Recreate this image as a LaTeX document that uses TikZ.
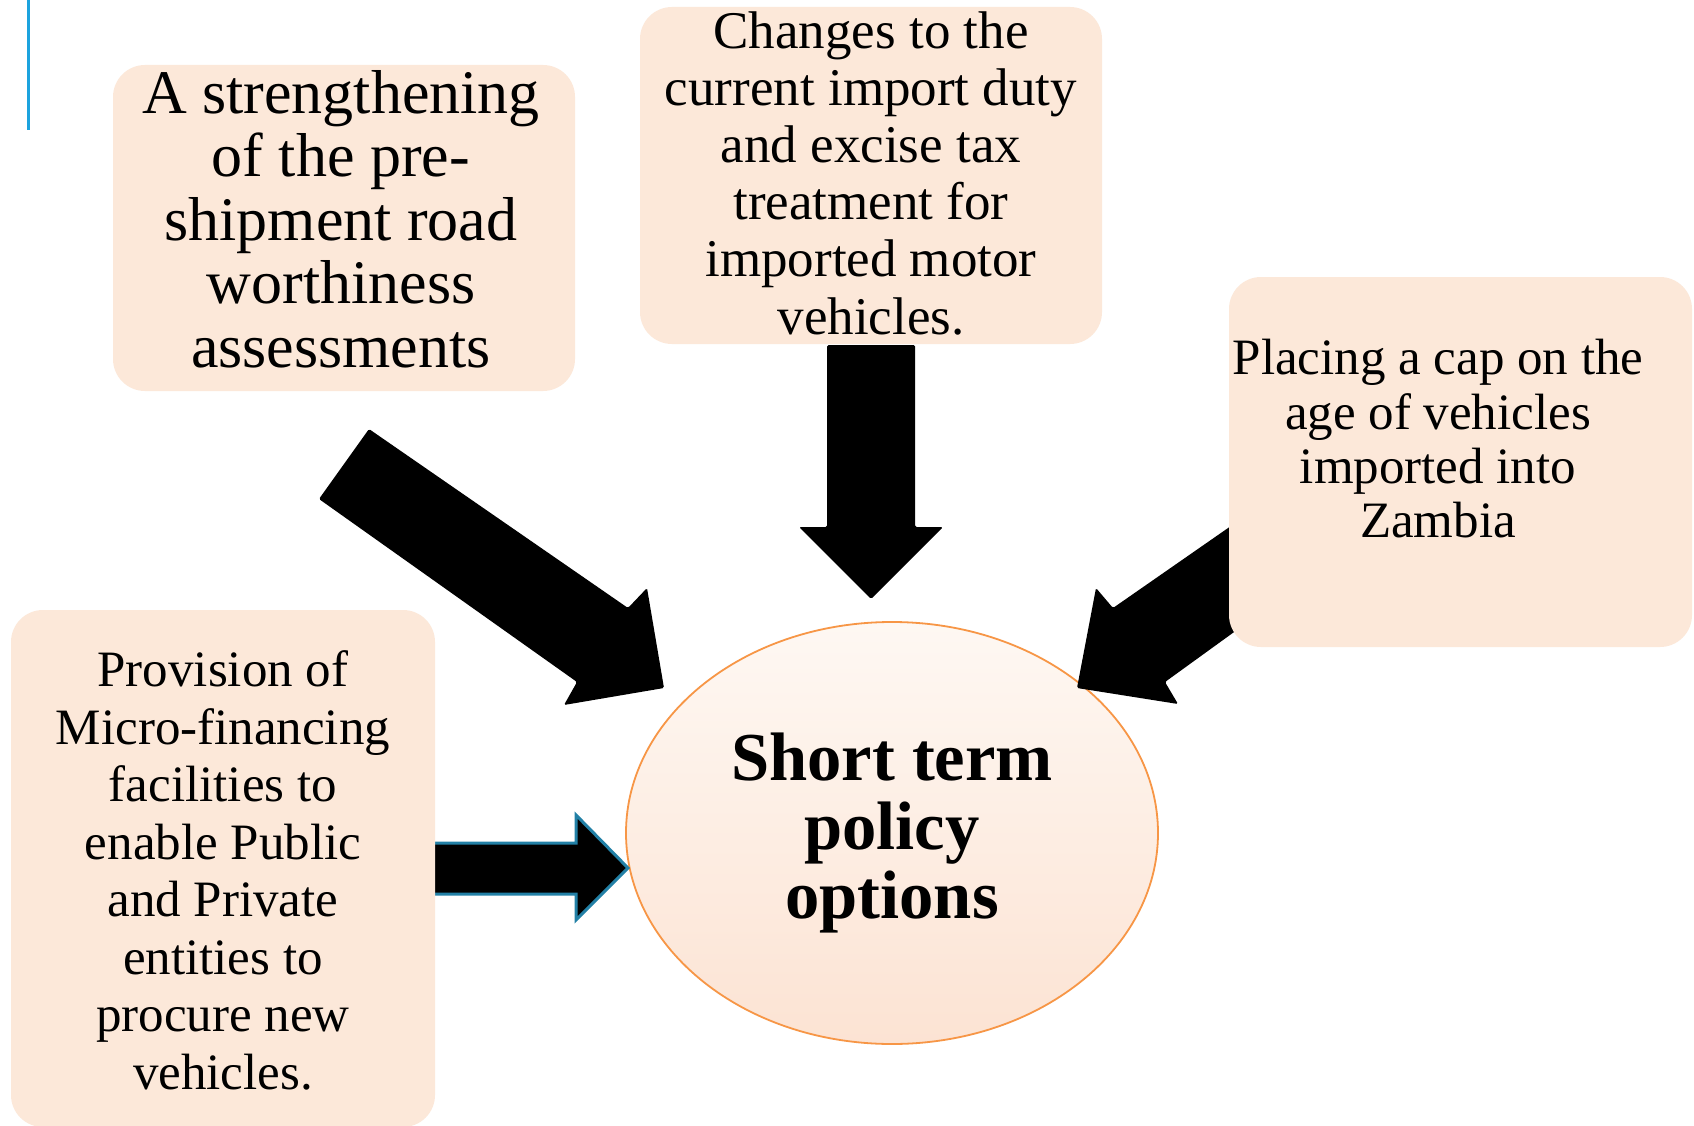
\documentclass[tikz,border=0pt]{standalone}
\usepackage{fontspec}
\setmainfont{Liberation Serif}
\usetikzlibrary{shapes.geometric}
\definecolor{boxfill}{HTML}{FCE8D9}
\definecolor{ellborder}{HTML}{F79646}
\definecolor{elltop}{HTML}{FEF8F3}
\definecolor{ellbot}{HTML}{FCE3D3}
\definecolor{accentblue}{HTML}{1CA3DE}
\definecolor{arrowedge}{HTML}{2280A6}
\begin{document}
\begin{tikzpicture}[x=1pt,y=-1pt,
  box/.style={rectangle, fill=boxfill, rounded corners=32pt, draw=none, inner sep=0pt},
  txt/.style={align=center, inner sep=0pt, text=black},
  blockarrow/.style={fill=black, rounded corners=1.5pt}]
\useasboundingbox[fill=white] (0,0) rectangle (1694,1126);

% accent line
\coordinate (l1) at (28.5,0);
\coordinate (l2) at (28.5,130);
\draw[accentblue, line width=3pt] (l1) -- (l2);

% central ellipse
\node[ellipse, draw=ellborder, line width=1.8pt, top color=elltop, bottom color=ellbot,
      minimum width=532pt, minimum height=422pt, inner sep=0pt, align=center,
      font=\bfseries\fontsize{68.6}{69}\selectfont] (e) at (892,833) {Short term\\policy\\options};

% block arrows
\path[blockarrow] (369,429) -- (628,608) -- (647,588) -- (664,688) -- (564,705) -- (577,682) -- (319,499) -- cycle;
\path[blockarrow] (827,345) -- (915,345) -- (915,527) -- (943,527) -- (871,599) -- (799,527) -- (827,527) -- cycle;
\path[blockarrow] (1113,608) -- (1096,588) -- (1077,688) -- (1178,704) -- (1165,682) -- (1288,593) -- (1277,494) -- cycle;
\draw[fill=black, draw=arrowedge, line width=3pt, line join=miter] (433,843) -- (576,843) -- (576,815) -- (628,868) -- (576,920) -- (576,894) -- (433,894) -- cycle;

% boxes
\node[box, minimum width=462pt, minimum height=326pt] (b1) at (344,228) {};
\node[box, minimum width=462pt, minimum height=337pt] (b2) at (871,175.5) {};
\node[box, minimum width=463pt, minimum height=370pt] (b3) at (1460.5,462) {};
\node[box, minimum width=424pt, minimum height=517pt] (b4) at (223,868.5) {};

% box texts
\node[txt, font=\fontsize{62}{63.5}\selectfont] (t1) at (341,219)
  {A strengthening\\of the pre-\\shipment road\\worthiness\\assessments};
\node[txt, font=\fontsize{53}{57.2}\selectfont] (t2) at (871,173)
  {Changes to the\\current import duty\\and excise tax\\treatment for\\imported motor\\vehicles.};
\node[txt, font=\fontsize{51}{54.3}\selectfont] (t3) at (1438,439)
  {Placing a cap on the\\age of vehicles\\imported into\\Zambia};
\node[txt, font=\fontsize{51}{57.5}\selectfont] (t4) at (223,870.5)
  {Provision of\\Micro-financing\\facilities to\\enable Public\\and Private\\entities to\\procure new\\vehicles.};
\end{tikzpicture}
\end{document}
